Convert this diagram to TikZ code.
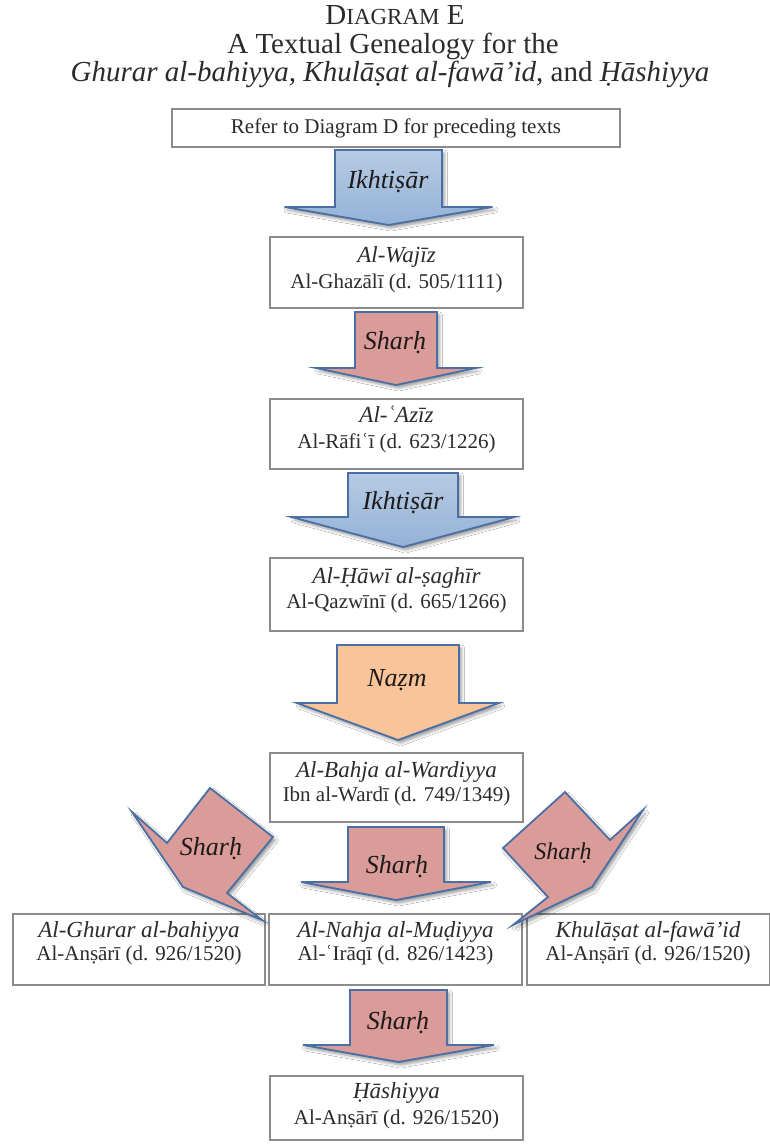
\documentclass[tikz,border=0pt]{standalone}
\usepackage{fontspec}
\setmainfont{Liberation Serif}
\usetikzlibrary{shadows.blur}

\definecolor{boxline}{HTML}{8C8C8C}
\definecolor{arrowline}{HTML}{4A6FA5}
\definecolor{bluetop}{HTML}{B6CBE4}
\definecolor{bluebottom}{HTML}{94B2D6}
\definecolor{redfill}{HTML}{DA9C99}
\definecolor{orangefill}{HTML}{F9C49A}
\definecolor{ink}{HTML}{2B2B2B}
\definecolor{labelink}{HTML}{1E1A1A}

% A downward block arrow: style, centre x, top y, half shaft width,
% shoulder y, half head width, tip y
\newcommand{\downblock}[7]{%
  \path[#1] ({#2-#4},#3) -- ({#2+#4},#3) -- ({#2+#4},#5) -- ({#2+#6},#5)
    -- (#2,#7) -- ({#2-#6},#5) -- ({#2-#4},#5) -- cycle;}

\begin{document}
\begin{tikzpicture}[x=1pt,y=-1pt,
  textbox/.style={draw=boxline,line width=1.3pt,fill=white,inner sep=0pt,
    minimum width=253pt,minimum height=71pt},
  heading/.style={text=ink,font=\fontsize{29}{33}\selectfont,inner sep=0pt,
    text height=21pt,text depth=8pt},
  worktitle/.style={text=ink,font=\fontsize{23}{27}\selectfont\itshape,inner sep=0pt,
    text height=17pt,text depth=6pt},
  author/.style={text=ink,font=\fontsize{21}{25}\selectfont,inner sep=0pt,
    text height=15pt,text depth=5pt},
  arrowlabel/.style={text=labelink,font=\fontsize{26}{30}\selectfont\itshape,inner sep=0pt,
    text height=19pt,text depth=7pt},
  blockarrow/.style={draw=arrowline,line width=1.8pt,line join=miter,
    blur shadow={shadow xshift=2.5pt,shadow yshift=-3pt,shadow blur radius=3pt,
      shadow opacity=40}},
  bluearrow/.style={blockarrow,top color=bluetop,bottom color=bluebottom},
  redarrow/.style={blockarrow,fill=redfill},
  orangearrow/.style={blockarrow,fill=orangefill},
]
\useasboundingbox[fill=white] (0,0) rectangle (770,1144);

% heading
\node[heading] (titleA) at (395,18) {D{\fontsize{23}{27}\selectfont IAGRAM} E};
\node[heading] (titleB) at (393,47) {A Textual Genealogy for the};
\node[heading] (titleC) at (390,75)
  {\itshape Ghurar al-bahiyya, Khulāṣat al-fawā’id\upshape, and \itshape Ḥāshiyya};

% text boxes of the central column
\node[textbox,author,minimum width=448pt,minimum height=38pt] (prior) at (396,128)
  {Refer to Diagram D for preceding texts};

\node[textbox] (wajiz) at (396.5,272.5) {};
\node[worktitle] (wajizT) at (396.5,257) {Al-Wajīz};
\node[author] (wajizA) at (396.5,283) {Al-Ghazālī (d. 505/1111)};

\node[textbox,minimum height=70pt] (aziz) at (396.5,434) {};
\node[worktitle] (azizT) at (396.5,417) {Al-ʿAzīz};
\node[author] (azizA) at (396.5,443) {Al-Rāfiʿī (d. 623/1226)};

\node[textbox,minimum height=73pt] (hawi) at (396.5,594.5) {};
\node[worktitle] (hawiT) at (396.5,578) {Al-Ḥāwī al-ṣaghīr};
\node[author] (hawiA) at (396.5,603) {Al-Qazwīnī (d. 665/1266)};

\node[textbox,minimum height=69pt] (bahja) at (396.5,787.5) {};
\node[worktitle] (bahjaT) at (396.5,772) {Al-Bahja al-Wardiyya};
\node[author] (bahjaA) at (396.5,796) {Ibn al-Wardī (d. 749/1349)};

% bottom row
\node[textbox,minimum width=252pt] (ghurar) at (139,949.5) {};
\node[worktitle] (ghurarT) at (139,932) {Al-Ghurar al-bahiyya};
\node[author] (ghurarA) at (139,955) {Al-Anṣārī (d. 926/1520)};

\node[textbox] (nahja) at (395.5,949.5) {};
\node[worktitle] (nahjaT) at (395.5,932) {Al-Nahja al-Muḍiyya};
\node[author] (nahjaA) at (395.5,955) {Al-ʿIrāqī (d. 826/1423)};

\node[textbox,minimum width=243pt] (khulasa) at (648.5,949.5) {};
\node[worktitle] (khulasaT) at (648,932) {Khulāṣat al-fawā’id};
\node[author] (khulasaA) at (648,955) {Al-Anṣārī (d. 926/1520)};

\node[textbox,minimum height=64pt] (hashiyya) at (396.5,1108) {};
\node[worktitle] (hashiyyaT) at (396.5,1093) {Ḥāshiyya};
\node[author] (hashiyyaA) at (396.5,1119) {Al-Anṣārī (d. 926/1520)};

% block arrows down the central column
\downblock{bluearrow}{388.5}{150}{53.5}{207}{104}{225}
\node[arrowlabel] (ikhtisarA) at (388,182) {Ikhtiṣār};

\downblock{redarrow}{396}{312}{41}{368}{80}{385}
\node[arrowlabel] (sharhA) at (395,343) {Sharḥ};

\downblock{bluearrow}{403}{473}{55}{517}{111.5}{547}
\node[arrowlabel] (ikhtisarB) at (403,503) {Ikhtiṣār};

\downblock{orangearrow}{398}{645}{61}{703}{101}{740}
\node[arrowlabel] (nazm) at (397,680) {Naẓm};

\downblock{redarrow}{396}{827}{48}{882}{95}{900}
\node[arrowlabel] (sharhB) at (397,867) {Sharḥ};

\downblock{redarrow}{398.5}{990}{48.5}{1045}{95.5}{1062}
\node[arrowlabel] (sharhC) at (398,1023) {Sharḥ};

% slanted arrows to the two side branches
\path[redarrow] (210,788) -- (273,837) -- (227,893) -- (262,920)
  -- (183,887) -- (132,812) -- (167,843) -- cycle;
\node[arrowlabel] (sharhL) at (211,849) {Sharḥ};

\path[redarrow] (565,792) -- (503,848) -- (548,897) -- (513,925)
  -- (592,887) -- (643,810) -- (610,840) -- cycle;
\node[arrowlabel,font=\fontsize{24}{28}\selectfont\itshape] (sharhR) at (563,853) {Sharḥ};
\end{tikzpicture}
\end{document}
